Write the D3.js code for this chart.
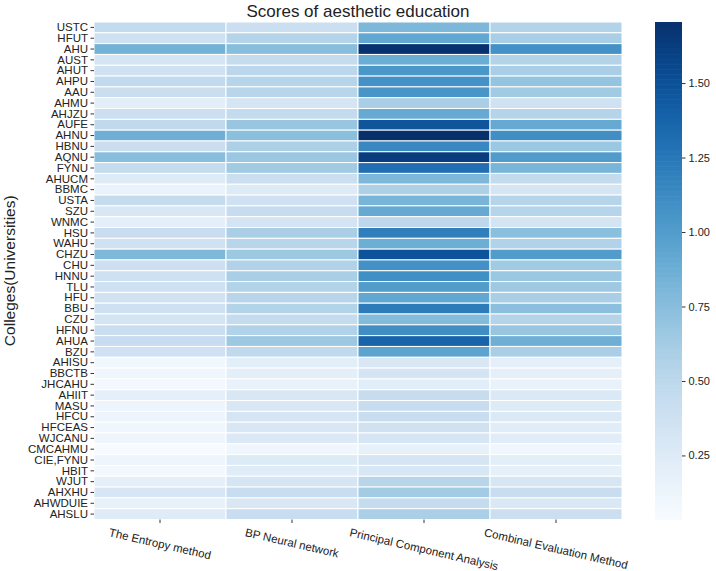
<!DOCTYPE html>
<html>
<head>
<meta charset="utf-8">
<script src="https://cdn.jsdelivr.net/npm/d3@7"></script>
<style>
  body { margin: 0; background: #fff; }
  text { font-family: "Liberation Sans", Arial, sans-serif; fill: #222; }
</style>
</head>
<body>
<svg id="heatmap"></svg>
<script>
var colleges = ["USTC", "HFUT", "AHU", "AUST", "AHUT", "AHPU", "AAU", "AHMU", "AHJZU", "AUFE",
    "AHNU", "HBNU", "AQNU", "FYNU", "AHUCM", "BBMC", "USTA", "SZU", "WNMC", "HSU",
    "WAHU", "CHZU", "CHU", "HNNU", "TLU", "HFU", "BBU", "CZU", "HFNU", "AHUA",
    "BZU", "AHISU", "BBCTB", "JHCAHU", "AHIIT", "MASU", "HFCU", "HFCEAS", "WJCANU", "CMCAHMU",
    "CIE,FYNU", "HBIT", "WJUT", "AHXHU", "AHWDUIE", "AHSLU"];

var methods = ["The Entropy method", "BP Neural network", "Principal Component Analysis", "Combinal Evaluation Method"];

var entropyScores = [0.45, 0.38, 0.84, 0.32, 0.37, 0.46, 0.41, 0.21, 0.40, 0.47,
    0.86, 0.41, 0.75, 0.44, 0.25, 0.14, 0.44, 0.29, 0.19, 0.42,
    0.36, 0.79, 0.39, 0.38, 0.38, 0.35, 0.38, 0.34, 0.41, 0.43,
    0.37, 0.09, 0.10, 0.08, 0.19, 0.12, 0.12, 0.10, 0.11, 0.035,
    0.11, 0.07, 0.19, 0.31, 0.17, 0.24];

var bpScores = [0.40, 0.54, 0.75, 0.44, 0.50, 0.53, 0.52, 0.32, 0.45, 0.68,
    0.74, 0.58, 0.67, 0.64, 0.40, 0.25, 0.37, 0.43, 0.33, 0.60,
    0.52, 0.66, 0.56, 0.60, 0.55, 0.52, 0.55, 0.44, 0.56, 0.66,
    0.47, 0.21, 0.20, 0.15, 0.29, 0.29, 0.32, 0.29, 0.27, 0.10,
    0.25, 0.23, 0.32, 0.42, 0.29, 0.42];

var pcaScores = [0.80, 0.92, 1.69, 0.88, 1.04, 1.08, 1.05, 0.60, 0.90, 1.47,
    1.705, 1.14, 1.62, 1.30, 0.80, 0.58, 0.82, 0.90, 0.49, 1.20,
    0.87, 1.48, 1.08, 1.09, 1.00, 0.92, 1.22, 0.77, 1.10, 1.37,
    0.95, 0.29, 0.33, 0.22, 0.43, 0.43, 0.42, 0.36, 0.32, 0.17,
    0.32, 0.30, 0.52, 0.63, 0.44, 0.59];

var combinedScores = [0.55, 0.60, 1.08, 0.55, 0.60, 0.70, 0.64, 0.36, 0.54, 0.90,
    1.10, 0.67, 1.00, 0.82, 0.45, 0.32, 0.53, 0.53, 0.34, 0.74,
    0.56, 1.00, 0.64, 0.67, 0.65, 0.60, 0.74, 0.54, 0.68, 0.86,
    0.60, 0.19, 0.19, 0.15, 0.27, 0.25, 0.27, 0.23, 0.23, 0.10,
    0.21, 0.18, 0.31, 0.42, 0.28, 0.40];

var colorbarTicks = [0.25, 0.50, 0.75, 1.00, 1.25, 1.50];

var series = [entropyScores, bpScores, pcaScores, combinedScores];
var cells = [];
colleges.forEach((c, i) => {
    methods.forEach((m, j) => {
        cells.push({ college: c, method: m, value: series[j][i] });
    });
});

var svg = d3.select("#heatmap")
    .attr("width", 716)
    .attr("height", 571);

var marginLeft = 94, marginTop = 22, plotW = 528, plotH = 497.5;

var g = svg.append("g")
    .attr("transform", "translate(" + marginLeft + "," + marginTop + ")");

var xScale = d3.scaleBand().domain(methods).range([0, plotW]);
var yScale = d3.scaleBand().domain(colleges).range([0, plotH]);

var allValues = series.flat();
var color = d3.scaleSequential(d3.interpolateBlues).domain(d3.extent(allValues));

g.selectAll(".cell")
    .data(cells)
    .enter().append("rect")
    .attr("class", "cell")
    .attr("x", d => xScale(d.method))
    .attr("y", d => yScale(d.college))
    .attr("width", xScale.bandwidth())
    .attr("height", yScale.bandwidth())
    .attr("fill", d => color(d.value))
    .attr("stroke", "#fff")
    .attr("stroke-width", 1);

// y axis
var yAxis = g.append("g")
    .call(d3.axisLeft(yScale).tickSize(3.5).tickPadding(2.5));
yAxis.select(".domain").remove();
yAxis.selectAll(".tick line").attr("stroke", "#333");
yAxis.selectAll(".tick text")
    .style("font-size", "11.5px")
    .style("font-family", "'Liberation Sans', Arial, sans-serif")
    .attr("fill", "#222");

// x axis
var xAxis = g.append("g")
    .attr("transform", "translate(0," + plotH + ")")
    .call(d3.axisBottom(xScale).tickSize(3.5).tickFormat(""));
xAxis.select(".domain").remove();
xAxis.selectAll(".tick line").attr("stroke", "#333");

var angle = 13;
var rad = angle * Math.PI / 180;
var xLabels = g.append("g").attr("class", "x-labels");
methods.forEach(m => {
    var t = xLabels.append("text")
        .text(m)
        .style("font-size", "11.5px")
        .attr("text-anchor", "middle")
        .attr("dominant-baseline", "central");
    var L = t.node().getComputedTextLength();
    var h = 11.5;
    var boxH = L * Math.sin(rad) + h * Math.cos(rad);
    var cx = xScale(m) + xScale.bandwidth() / 2;
    var cy = plotH + 7 + boxH / 2;
    t.attr("transform", "translate(" + cx + "," + cy + ") rotate(" + angle + ")");
});

// titles
svg.append("text")
    .attr("x", marginLeft + plotW / 2)
    .attr("y", 17)
    .attr("text-anchor", "middle")
    .style("font-size", "17px")
    .text("Scores of aesthetic education");

svg.append("text")
    .attr("transform", "translate(15," + (marginTop + plotH / 2) + ") rotate(-90)")
    .attr("text-anchor", "middle")
    .style("font-size", "15.5px")
    .text("Colleges(Universities)");

// colorbar
var cbX = 655, cbW = 27;
var cbScale = d3.scaleLinear().domain(color.domain()).range([marginTop + plotH, marginTop]);
var steps = d3.range(0, 200).map(i => {
    var d = color.domain();
    return d[0] + (d[1] - d[0]) * i / 200;
});
var stepH = plotH / 200;
svg.append("g").selectAll("rect")
    .data(steps)
    .enter().append("rect")
    .attr("x", cbX)
    .attr("y", d => cbScale(d) - stepH)
    .attr("width", cbW)
    .attr("height", stepH + 0.6)
    .attr("fill", d => color(d));

var cbAxis = svg.append("g")
    .attr("transform", "translate(" + (cbX + cbW) + ",0)")
    .call(d3.axisRight(cbScale).tickValues(colorbarTicks).tickFormat(d3.format(".2f")).tickSize(3.5).tickPadding(3));
cbAxis.select(".domain").remove();
cbAxis.selectAll(".tick line").attr("stroke", "#333");
cbAxis.selectAll(".tick text")
    .style("font-size", "11px")
    .style("font-family", "'Liberation Sans', Arial, sans-serif")
    .attr("fill", "#222");
</script>
</body>
</html>
